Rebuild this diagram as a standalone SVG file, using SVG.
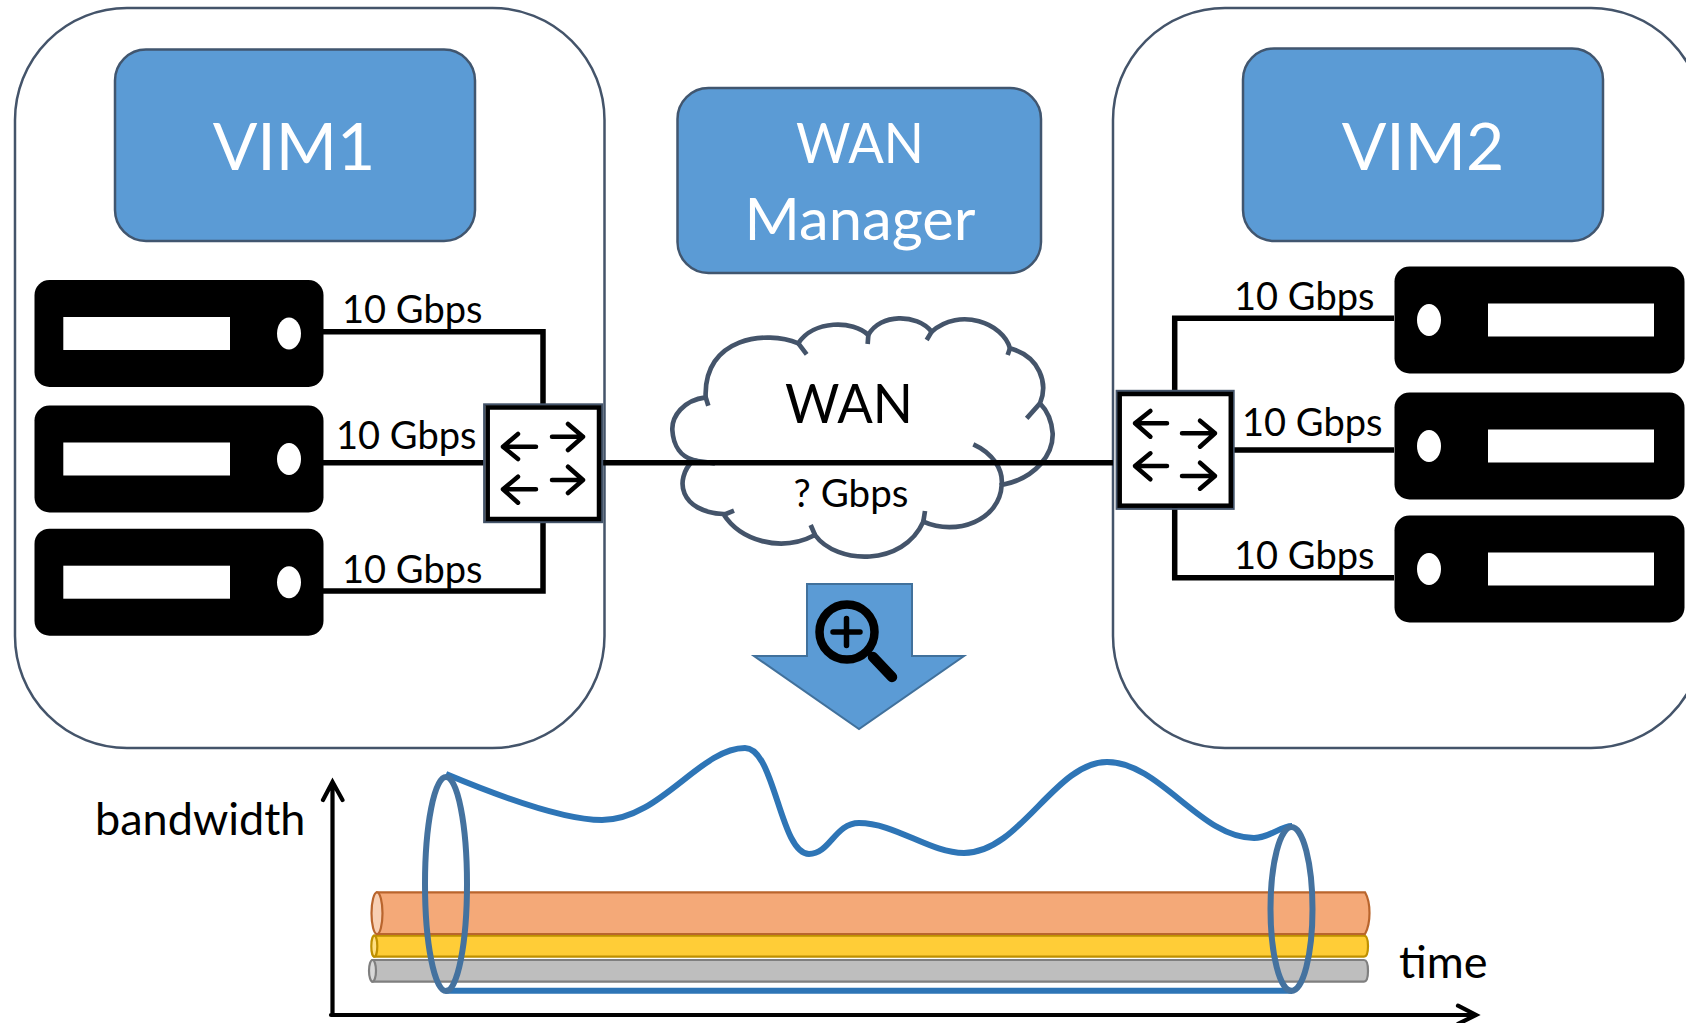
<svg xmlns="http://www.w3.org/2000/svg" width="1686" height="1023" viewBox="0 0 1686 1023">
<style>
text{font-family:"Lato","Open Sans","Liberation Sans",sans-serif;fill:#000}
.domain{fill:#fff;stroke:#44546a;stroke-width:2.500}
.mgr{fill:#5b9bd5;stroke:#41566f;stroke-width:2.500}
.mgr-t{fill:#fff;text-anchor:middle}
.srv{fill:#000}
.hole{fill:#fff}
.lk{fill:none;stroke:#000;stroke-width:5.500}
.sw-o{fill:none;stroke:#44546a;stroke-width:2.400}
.sw-i{fill:#fff;stroke:#000;stroke-width:4.500}
.ar{fill:none;stroke:#000;stroke-width:4.500;stroke-linecap:round;stroke-linejoin:round}
.lb{font-size:38px}
.cl{fill:none;stroke:#44546a;stroke-width:14}
.tube{fill:none;stroke:#44729f;stroke-width:6}
</style>
<defs>
<g id="server-l"><rect class="srv" x="34.500" y="0" width="289" height="107" rx="15"/><rect class="hole" x="63.300" y="37" width="166.700" height="33"/><ellipse class="hole" cx="289" cy="53.500" rx="12" ry="16"/></g>
<g id="server-r"><rect class="srv" x="1394.500" y="0" width="290" height="107" rx="15"/><rect class="hole" x="1488" y="37" width="166" height="33"/><ellipse class="hole" cx="1429" cy="53.500" rx="12" ry="16"/></g>
</defs>

<g id="domain-1"><rect class="domain" x="15" y="8" width="589.500" height="740" rx="112"/></g>
<g id="domain-2"><rect class="domain" x="1113" y="8" width="590" height="740" rx="112"/></g>

<g id="vim1"><rect class="mgr" x="115" y="49.500" width="360" height="191.500" rx="31"/><text class="mgr-t" x="294" y="170" font-size="66">VIM1</text></g>
<g id="vim2"><rect class="mgr" x="1243" y="48.500" width="360" height="192.500" rx="31"/><text class="mgr-t" x="1423" y="170" font-size="66">VIM2</text></g>
<g id="wan-manager"><rect class="mgr" x="677.500" y="88" width="363.500" height="185" rx="31"/><text class="mgr-t" x="860" y="163" font-size="56" textLength="128" lengthAdjust="spacingAndGlyphs">WAN</text><text class="mgr-t" x="860" y="240" font-size="59" textLength="231" lengthAdjust="spacingAndGlyphs">Manager</text></g>

<g id="servers-left"><use href="#server-l" y="280"/><use href="#server-l" y="405.500"/><use href="#server-l" y="528.700"/></g>
<g id="servers-right"><use href="#server-r" y="266.500"/><use href="#server-r" y="392.500"/><use href="#server-r" y="515.500"/></g>

<g id="cloud" transform="translate(640 290) scale(.33333)">
<path d="M197,322C130,330 95,380 97,420C100,470 125,500 160,510C100,570 120,665 250,672C300,750 420,790 525,735C590,825 790,830 850,695C950,740 1080,690 1085,585C1190,565 1240,490 1238,430C1235,390 1220,360 1200,340C1225,280 1200,200 1110,175C1090,100 960,50 875,125C830,70 720,70 685,135C640,90 520,90 475,160C380,120 190,140 197,322Z" fill="#fff" stroke="#44546a" stroke-width="14"/>
<path class="cl" d="M197,322L205,347M475,160L500,193M685,135L683,162M875,125L860,150M1110,175L1103,195M1200,340L1160,385M1000,463C1060,490 1090,540 1085,585M850,695L855,663M525,735L512,705M250,675L282,662M150,510L225,520"/>
</g>

<g id="connectors">
<path class="lk" d="M323,331.700H543V404M323,462.700H484M323,591H543V522M603,462.700H1113M1394,318.300H1174.700V392M1232,450H1394M1394,577.700H1174.700V507"/>
</g>

<g id="switch-left"><rect class="sw-o" x="484.300" y="404.500" width="117.700" height="117.500"/><rect class="sw-i" x="487.700" y="407.500" width="111.300" height="111.500"/>
<path class="ar" d="M536,446.700H503M518,434L503,446.700L518,459M552,436.700H583M568,424L583,436.700L568,450M536,489.300H503M518,476.700L503,489.300L518,502.700M552,480H583M568,466.700L583,480L568,493"/></g>
<g id="switch-right"><rect class="sw-o" x="1116.800" y="391" width="116.700" height="117.700"/><rect class="sw-i" x="1119.700" y="394" width="111.100" height="111.700"/>
<path class="ar" d="M1167,423.300H1135M1150.400,411L1135,423.300L1150.400,436.700M1182,433.300H1215M1200,420.700L1215,433.300L1200,446.700M1167,466H1135M1150.400,453.300L1135,466L1150.400,479.300M1182,476H1215M1200,462.700L1215,476L1200,488.700"/></g>

<g id="link-labels">
<text class="lb" x="342" y="323.300">10 Gbps</text><text class="lb" x="336" y="449">10 Gbps</text><text class="lb" x="342" y="582.700">10 Gbps</text>
<text class="lb" x="1234" y="310">10 Gbps</text><text class="lb" x="1242" y="436">10 Gbps</text><text class="lb" x="1234" y="569.300">10 Gbps</text>
</g>
<g id="wan-labels"><text x="849" y="423" font-size="55" text-anchor="middle" textLength="128" lengthAdjust="spacingAndGlyphs">WAN</text><text x="851" y="507" font-size="38.500" text-anchor="middle">? Gbps</text></g>

<g id="zoom-arrow"><path d="M807,584H912V656H964L859,729L754,656H807Z" fill="#5b9bd5" stroke="#41719c" stroke-width="2"/>
<circle cx="847" cy="632" r="27.500" fill="none" stroke="#000" stroke-width="8.500"/><path d="M833,632H860M846.500,618.500V645.500" fill="none" stroke="#000" stroke-width="5.500" stroke-linecap="round"/><path d="M873,657L892,677" fill="none" stroke="#000" stroke-width="10.500" stroke-linecap="round"/></g>

<g id="chart">
<path d="M372.500,960H1364Q1368,960 1368,970.800Q1368,981.700 1364,981.700H372.500Z" fill="#bebebe" stroke="#7f7f7f" stroke-width="2.200"/><ellipse cx="372.500" cy="970.800" rx="3.500" ry="10.800" fill="#d8d8d8" stroke="#7f7f7f" stroke-width="2.200"/>
<path d="M374.300,935.700H1364Q1368,935.700 1368,946.200Q1368,956.700 1364,956.700H374.300Z" fill="#ffcd37" stroke="#bf9000" stroke-width="2.200"/><ellipse cx="374.300" cy="946.200" rx="3" ry="10.500" fill="#ffdf80" stroke="#bf9000" stroke-width="2.200"/>
<path d="M377,892.300H1365Q1369.500,900 1369.500,913Q1369.500,926 1365,934H377Z" fill="#f4a978" stroke="#b9652d" stroke-width="2.200"/><ellipse cx="377" cy="913.200" rx="5.500" ry="20.900" fill="#f8cfb3" stroke="#b9652d" stroke-width="2.200"/>
<path d="M446,774C520,805 570,820 602,820C660,820 700,748 745,748C775,748 780,854 809,854C830,854 835,823 859,823C895,823 930,853 964,853C1020,853 1055,762 1107,762C1160,762 1200,838 1254,838C1270,838 1280,826 1292,826M446,990.700H1292" fill="none" stroke="#2e75b6" stroke-width="6"/>
<ellipse class="tube" cx="446" cy="884" rx="21" ry="107"/><ellipse class="tube" cx="1291.500" cy="909" rx="21" ry="82"/>
<path d="M332.500,1015V782M323,800L332.500,782L342.500,800M331,1015H1476M1458,1005.700L1476,1015L1458,1024" fill="none" stroke="#000" stroke-width="4.200" stroke-linecap="round"/>
<text x="95" y="834.500" font-size="45">bandwidth</text><text x="1399" y="978" font-size="45">time</text>
</g>
</svg>
